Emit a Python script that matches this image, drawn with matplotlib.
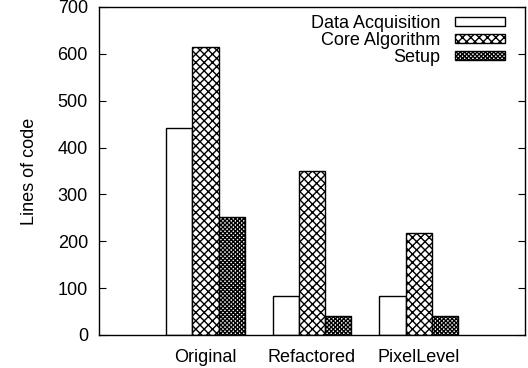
import matplotlib
matplotlib.use("Agg")
import matplotlib.pyplot as plt
import numpy as np

plt.rcParams["font.family"] = ["Liberation Sans", "DejaVu Sans"]
plt.rcParams["hatch.linewidth"] = 1.0

versions = ["Original", "Refactored", "PixelLevel"]
series = ["Data Acquisition", "Core Algorithm", "Setup"]
data_acq = [442, 83, 83]
core_alg = [615, 350, 218]
setup = [252, 40, 40]
hatches = ["", "xxxx", "xxxxxxxx"]

fig = plt.figure(figsize=(5.28, 3.68), dpi=100)
ax = fig.add_axes([0.1875, 0.09, 0.807, 0.891])

x = np.arange(len(versions))
width = 0.245
for i, (name, vals, h) in enumerate(zip(series, [data_acq, core_alg, setup], hatches)):
    ax.bar(x + (i - 1) * width, vals, width, facecolor="white", edgecolor="black",
           hatch=h, linewidth=1.0, label=name)

ax.set_xlim(-1, 3)
ax.set_ylim(0, 700)
ax.set_xticks(x)
ax.set_xticklabels(versions)
ax.set_yticks(np.arange(0, 701, 100))
ax.tick_params(direction="in", length=5, width=0.8, labelsize=13, top=True, right=True, pad=8)
ax.tick_params(axis="x", length=0, pad=10)
for s in ax.spines.values():
    s.set_linewidth(1.0)
ax.set_ylabel("Lines of code", fontsize=13, labelpad=14)

leg = ax.legend(loc="upper right", bbox_to_anchor=(0.979, 1.009), frameon=False,
                markerfirst=False, fontsize=13,
                handlelength=2.8, handleheight=0.4, labelspacing=0.0,
                borderaxespad=0.4, handletextpad=0.8, borderpad=0.2)

fig.savefig("out.png", dpi=100)
